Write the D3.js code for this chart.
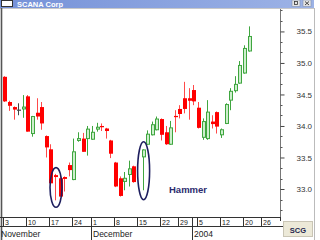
<!DOCTYPE html>
<html>
<head>
<meta charset="utf-8">
<script src="https://cdn.jsdelivr.net/npm/d3@7"></script>
<style>
  body { margin: 0; background: #fff; }
  svg { display: block; font-family: "Liberation Sans", Arial, sans-serif; }
</style>
</head>
<body>
<div id="chart"></div>
<script>
// every trading day on the x axis
var allDays = [
  "2003-11-03","2003-11-04","2003-11-05","2003-11-06","2003-11-07",
  "2003-11-10","2003-11-11","2003-11-12","2003-11-13","2003-11-14",
  "2003-11-17","2003-11-18","2003-11-19","2003-11-20","2003-11-21",
  "2003-11-24","2003-11-25","2003-11-26","2003-11-28",
  "2003-12-01","2003-12-02","2003-12-03","2003-12-04","2003-12-05",
  "2003-12-08","2003-12-09","2003-12-10","2003-12-11","2003-12-12",
  "2003-12-15","2003-12-16","2003-12-17","2003-12-18","2003-12-19",
  "2003-12-22","2003-12-23","2003-12-24","2003-12-26",
  "2003-12-29","2003-12-30","2003-12-31","2004-01-02",
  "2004-01-05","2004-01-06","2004-01-07","2004-01-08","2004-01-09",
  "2004-01-12","2004-01-13","2004-01-14","2004-01-15","2004-01-16",
  "2004-01-20","2004-01-21","2004-01-22","2004-01-23",
  "2004-01-26","2004-01-27","2004-01-28","2004-01-29","2004-01-30"
];

// candles
var candleDays = [
  "2003-11-03","2003-11-04","2003-11-05","2003-11-06","2003-11-07",
  "2003-11-10","2003-11-11","2003-11-12","2003-11-13","2003-11-14",
  "2003-11-17","2003-11-18","2003-11-19","2003-11-20","2003-11-21",
  "2003-11-24","2003-11-25","2003-11-26","2003-11-28",
  "2003-12-01","2003-12-02","2003-12-03","2003-12-04","2003-12-05",
  "2003-12-08","2003-12-09","2003-12-10","2003-12-11","2003-12-12",
  "2003-12-16","2003-12-17","2003-12-18","2003-12-19",
  "2003-12-22","2003-12-23","2003-12-24","2003-12-26",
  "2003-12-29","2003-12-30","2003-12-31","2004-01-02",
  "2004-01-05","2004-01-06","2004-01-07","2004-01-08","2004-01-09",
  "2004-01-12","2004-01-13","2004-01-14","2004-01-15","2004-01-16",
  "2004-01-20","2004-01-21"
];
var openVals = [
  34.78, 34.38, 34.30, 34.26, 34.27,
  34.47, 33.88, 34.21, 34.30, 33.84,
  33.63, 33.22, 33.17, 33.19, 33.38,
  33.15, 33.77, 33.80, 33.80,
  33.79, 33.95, 34.00, 33.96, 33.77,
  33.42, 33.17, 33.12, 33.23, 33.36,
  33.51, 33.71, 33.86, 33.94,
  34.11, 33.90, 33.71, 34.16,
  34.27, 34.44, 34.44, 34.57,
  34.29, 33.82, 33.80, 34.07, 34.22,
  33.86, 34.04, 34.41, 34.56, 34.68,
  34.84, 35.19
];
var highVals = [
  34.79, 34.40, 34.31, 34.36, 34.49,
  34.49, 34.16, 34.44, 34.38, 33.85,
  33.71, 33.24, 33.25, 33.20, 33.42,
  33.80, 33.90, 33.89, 34.00,
  34.00, 34.05, 34.04, 33.97, 33.78,
  33.43, 33.20, 33.27, 33.45, 33.37,
  33.63, 33.93, 34.07, 34.15,
  34.12, 34.00, 34.08, 34.25,
  34.33, 34.70, 34.60, 34.65,
  34.38, 34.12, 34.41, 34.17, 34.23,
  33.96, 34.36, 34.60, 34.79, 35.03,
  35.28, 35.58
];
var lowVals = [
  34.38, 34.24, 34.10, 34.17, 34.13,
  33.91, 33.83, 34.10, 33.94, 33.50,
  33.09, 32.82, 32.88, 32.96, 33.20,
  33.14, 33.75, 33.59, 33.53,
  33.78, 33.91, 33.92, 33.80, 33.49,
  33.03, 32.88, 32.98, 33.04, 33.10,
  32.98, 33.70, 33.85, 33.93,
  33.77, 33.70, 33.70, 33.90,
  34.12, 34.20, 34.10, 34.33,
  33.96, 33.78, 33.78, 33.96, 33.88,
  33.81, 34.03, 34.25, 34.53, 34.67,
  34.83, 35.18
];
var closeVals = [
  34.39, 34.32, 34.26, 34.26, 34.30,
  33.91, 34.15, 34.15, 34.04, 33.66,
  33.09, 33.19, 32.88, 33.16, 33.30,
  33.59, 33.80, 33.59, 33.95,
  33.90, 33.98, 33.98, 33.92, 33.56,
  33.04, 32.89, 33.17, 33.32, 33.11,
  33.62, 33.87, 34.02, 34.11,
  33.86, 33.71, 33.97, 34.14,
  34.19, 34.27, 34.40, 34.39,
  33.97, 34.07, 34.22, 34.03, 33.99,
  33.94, 34.34, 34.55, 34.66, 34.96,
  35.23, 35.42
];

var priceTicks = [33.0, 33.5, 34.0, 34.5, 35.0, 35.5];
var weekTicks = ["2003-11-03","2003-11-10","2003-11-17","2003-11-24","2003-12-01","2003-12-08",
  "2003-12-15","2003-12-22","2003-12-29","2004-01-05","2004-01-12","2004-01-20","2004-01-26"];
var weekLabels = ["3","10","17","24","1","8","15","22","29","5","12","20","26"];
var monthStarts = ["2003-11-03","2003-12-01","2004-01-02"];
var monthLabels = ["November","December","2004"];
// hammer candles circled on the chart
var hammerDays = ["2003-11-18","2003-12-16"];
var hammerRanges = [[32.71, 33.34], [32.83, 33.75]];

var svgWidth = 320, svgHeight = 240;
var plot = { left: 2, right: 280, top: 9, bottom: 217 };

var svg = d3.select("#chart").append("svg")
  .attr("width", svgWidth)
  .attr("height", svgHeight);

// scales
var x = d3.scaleBand()
  .domain(allDays)
  .range([3, 3 + allDays.length * 4.61])
  .paddingInner(0).paddingOuter(0);

var y = d3.scaleLinear()
  .domain([32.54, 35.84])
  .range([plot.bottom + 1, plot.top + 1]);

// window title bar
var grad = svg.append("defs").append("linearGradient").attr("id", "tb");
grad.append("stop").attr("offset", "0%").attr("stop-color", "#7591d8");
grad.append("stop").attr("offset", "100%").attr("stop-color", "#9db3e6");
svg.append("rect").attr("x", 0).attr("y", 0).attr("width", 314).attr("height", 8).attr("fill", "url(#tb)");
svg.append("rect").attr("x", 1.5).attr("y", 0.5).attr("width", 11).attr("height", 6).attr("fill", "#fff").attr("stroke", "#333");
svg.append("text").attr("x", 17).attr("y", 6.5).attr("fill", "#fff")
  .attr("font-size", 7.5).attr("font-weight", "bold").text("SCANA Corp");
[292, 303].forEach(function(bx, i) {
  svg.append("rect").attr("x", bx).attr("y", 0).attr("width", 8).attr("height", 6.5)
    .attr("fill", "#e4e4e4").attr("stroke", "#8090b0").attr("stroke-width", 0.6);
  if (i === 0) {
    svg.append("rect").attr("x", bx + 2.5).attr("y", 1.5).attr("width", 3).attr("height", 3)
      .attr("fill", "none").attr("stroke", "#333").attr("stroke-width", 0.8);
  } else {
    svg.append("path").attr("d", `M${bx + 2},1.5L${bx + 6},5M${bx + 6},1.5L${bx + 2},5`)
      .attr("stroke", "#333").attr("stroke-width", 0.9);
  }
});
svg.append("line").attr("x1", 0).attr("x2", 314).attr("y1", 8.5).attr("y2", 8.5).attr("stroke", "#c8c8c8");

// frame lines
svg.append("line").attr("x1", 1.5).attr("x2", 1.5).attr("y1", 8).attr("y2", 240)
  .attr("stroke", "#555").attr("stroke-width", 1.6);
svg.append("line").attr("x1", plot.right + 0.5).attr("x2", plot.right + 0.5).attr("y1", 9).attr("y2", plot.bottom)
  .attr("stroke", "#777");
svg.append("line").attr("x1", 314.5).attr("x2", 314.5).attr("y1", 8).attr("y2", 240)
  .attr("stroke", "#bbb");

// right price axis
var axisG = svg.append("g").attr("transform", `translate(${plot.right + 0.5},0)`);
axisG.call(d3.axisRight(y).tickValues(priceTicks).tickSize(4).tickPadding(12)
  .tickFormat(d3.format(".1f")));
axisG.select(".domain").remove();
axisG.selectAll(".tick line").attr("stroke", "#444");
axisG.selectAll(".tick text").attr("fill", "#333").attr("font-size", 8)
  .attr("font-family", "Liberation Sans, Arial, sans-serif");
var minorTicks = d3.range(32.5 + 1 / 6, 35.84, 1 / 6).filter(function(v) {
  return Math.abs(v * 2 - Math.round(v * 2)) > 0.01;
});
axisG.selectAll("line.minor").data(minorTicks).enter().append("line")
  .attr("class", "minor")
  .attr("x1", 0).attr("x2", 2)
  .attr("y1", d => Math.round(y(d)) + 0.5).attr("y2", d => Math.round(y(d)) + 0.5)
  .attr("stroke", "#555");

// build candle rows
var candles = candleDays.map(function(d, i) {
  return { day: d, o: openVals[i], h: highVals[i], l: lowVals[i], c: closeVals[i] };
});

var colorOf = function(d) {
  if (d.o === d.c) return "#444";
  return d.c > d.o ? "#3fa63f" : "#ff0000";
};
var bodyW = 4;
var left = d => Math.round(x(d.day) + x.bandwidth() / 2 - bodyW / 2);

var candleG = svg.append("g");
// wicks
candleG.selectAll("line.wick").data(candles).enter().append("line")
  .attr("class", "wick")
  .attr("x1", d => left(d) + 1.5).attr("x2", d => left(d) + 1.5)
  .attr("y1", d => y(d.h)).attr("y2", d => y(d.l))
  .attr("stroke", d => d.c >= d.o ? colorOf(d) : "#ff4a4a")
  .attr("stroke-width", 1);
// bodies
candleG.selectAll("rect.body").data(candles).enter().append("rect")
  .attr("class", "body")
  .attr("x", d => d.c > d.o ? left(d) + 0.5 : left(d))
  .attr("width", d => d.c > d.o ? bodyW - 1 : bodyW)
  .attr("y", d => y(Math.max(d.o, d.c)))
  .attr("height", d => Math.max(1.2, Math.abs(y(d.o) - y(d.c))))
  .attr("fill", d => d.c > d.o ? "#cdeecd" : colorOf(d))
  .attr("stroke", d => d.c > d.o ? "#3fa63f" : "none")
  .attr("stroke-width", 1);

// hammer ellipses
svg.selectAll("ellipse.hammer").data(hammerDays).enter().append("ellipse")
  .attr("class", "hammer")
  .attr("cx", d => x(d) + x.bandwidth() / 2)
  .attr("cy", (d, i) => (y(hammerRanges[i][0]) + y(hammerRanges[i][1])) / 2)
  .attr("rx", 6)
  .attr("ry", (d, i) => (y(hammerRanges[i][0]) - y(hammerRanges[i][1])) / 2)
  .attr("fill", "none")
  .attr("stroke", "#1e1e5e")
  .attr("stroke-width", 1.6);

svg.append("text").attr("x", 169).attr("y", 193)
  .attr("fill", "#2b2b6e").attr("font-size", 9.5).attr("font-weight", "bold")
  .text("Hammer");

// bottom date rows
svg.append("line").attr("x1", 0).attr("x2", plot.right + 1).attr("y1", plot.bottom + 0.5).attr("y2", plot.bottom + 0.5)
  .attr("stroke", "#333");
svg.append("line").attr("x1", 0).attr("x2", plot.right + 3).attr("y1", 226.5).attr("y2", 226.5)
  .attr("stroke", "#333");
svg.append("line").attr("x1", plot.right + 0.5).attr("x2", plot.right + 0.5).attr("y1", plot.bottom).attr("y2", 221)
  .attr("stroke", "#333");

var weekG = svg.append("g");
weekG.selectAll("line").data(weekTicks).enter().append("line")
  .attr("x1", d => Math.round(x(d)) + 0.5).attr("x2", d => Math.round(x(d)) + 0.5)
  .attr("y1", plot.bottom).attr("y2", 226.5)
  .attr("stroke", "#333");
weekG.selectAll("text").data(weekTicks).enter().append("text")
  .attr("x", d => Math.round(x(d)) + 2)
  .attr("y", 224.5)
  .attr("font-size", 7)
  .attr("fill", "#222")
  .text((d, i) => weekLabels[i]);

var monthG = svg.append("g");
monthG.selectAll("line").data(monthStarts.slice(1)).enter().append("line")
  .attr("x1", d => Math.round(x(d)) + 0.5).attr("x2", d => Math.round(x(d)) + 0.5)
  .attr("y1", plot.bottom).attr("y2", 240)
  .attr("stroke", "#333");
monthG.selectAll("text").data(monthStarts).enter().append("text")
  .attr("x", (d, i) => i === 0 ? 1 : Math.round(x(d)) + 2)
  .attr("y", 236.5)
  .attr("font-size", 8.5)
  .attr("fill", "#222")
  .text((d, i) => monthLabels[i]);

// symbol button
svg.append("rect").attr("x", 283.5).attr("y", 221.5).attr("width", 29).attr("height", 15)
  .attr("fill", "#ece9d8").attr("stroke", "#c9c5b5");
svg.append("text").attr("x", 298).attr("y", 232.5).attr("text-anchor", "middle")
  .attr("font-size", 7.5).attr("font-weight", "bold").attr("fill", "#1e1e4e")
  .text("SCG");
</script>
</body>
</html>
